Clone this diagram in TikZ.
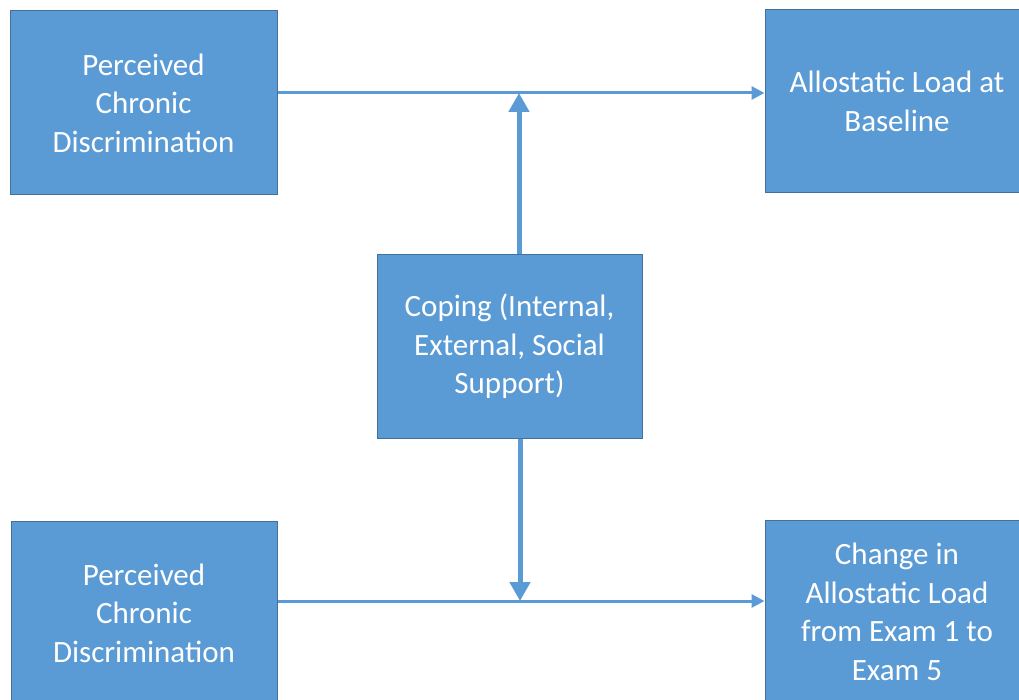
\documentclass[tikz,border=0pt]{standalone}
\usepackage{fontspec}
\setmainfont{Carlito}
\usetikzlibrary{arrows.meta}
\definecolor{boxfill}{HTML}{5B9BD5}
\definecolor{boxline}{HTML}{41719C}
\tikzset{
  blockbox/.style={rectangle, fill=boxfill, draw=boxline, line width=1pt,
    text=white, align=center, inner sep=0pt,
    font=\fontsize{31}{38.5}\selectfont},
  harrow/.style={draw=boxfill, line width=3pt, -{Triangle[width=13pt,length=13pt]}},
  varrow/.style={draw=boxfill, line width=5pt, -{Triangle[width=20pt,length=19pt]}},
}
\begin{document}
\begin{tikzpicture}[x=1pt,y=-1pt]
\useasboundingbox (0,0) rectangle (1019,700);
\clip (0,0) rectangle (1019,700);
\node[blockbox, minimum width=267pt, minimum height=184pt] (b1) at (143.5,103) {Perceived\\Chronic\\Discrimination};
\node[blockbox, minimum width=264pt, minimum height=183pt] (b2) at (897,101.5) {Allostatic Load at\\Baseline};
\node[blockbox, minimum width=265pt, minimum height=183pt] (cop) at (509.5,346.5) {Coping (Internal,\\External, Social\\Support)};
\node[blockbox, minimum width=266pt, minimum height=184pt] (b4) at (144,613) {Perceived\\Chronic\\Discrimination};
\node[blockbox, minimum width=264pt, minimum height=184pt] (b5) at (897,612) {Change in\\Allostatic Load\\from Exam 1 to\\Exam 5};
\coordinate (j1) at (519,93);
\coordinate (j2) at (520,601);
\draw[harrow] (b1.east |- j1) -- (b2.west |- j1);
\draw[harrow] (b4.east |- j2) -- (b5.west |- j2);
\draw[varrow] (cop.north -| j1) -- (j1);
\draw[varrow] (cop.south -| j2) -- (j2);
\end{tikzpicture}
\end{document}
